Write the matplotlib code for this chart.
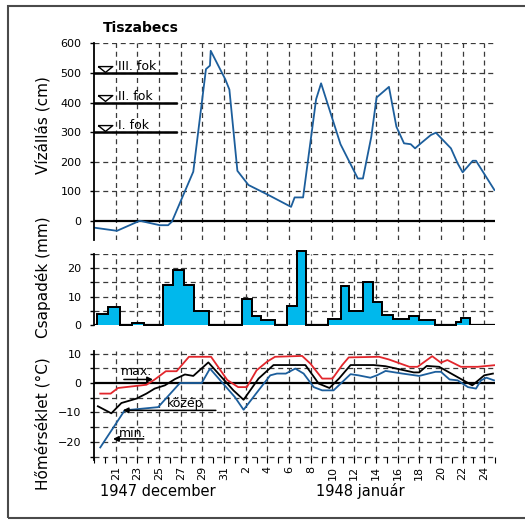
import matplotlib.pyplot as plt
from matplotlib.ticker import MultipleLocator, FixedLocator
from matplotlib.patches import Rectangle

# %% Data (x = day number: 1947-12-21 -> 21, 1948-01-01 -> 32)
level_day = [18.96, 21.12, 23.22, 25.07, 25.84, 26.19, 28.16, 29.33, 29.70, 29.77,
             31.12, 31.49, 32.23, 33.25, 35.10, 37.18, 37.51, 38.29, 39.49, 39.95,
             41.74, 43.34, 43.81, 44.58, 45.07, 46.21, 46.90, 47.60, 48.22, 48.62,
             49.15, 50.07, 50.54, 51.93, 52.55, 53.01, 53.94, 54.24, 55.94]
level_cm = [-23, -34, 0, -15, -15, -3, 166, 513, 525, 575,
            478, 444, 169, 121, 87, 47, 79, 79, 411, 465,
            259, 143, 143, 284, 417, 453, 318, 262, 259, 245,
            262, 290, 298, 245, 194, 164, 203, 203, 104]

alarm_levels = [300, 400, 500]
alarm_names = ['I. fok', 'II. fok', 'III. fok']

precip_edges = [19.3, 20.3, 21.4, 22.55, 23.6, 25.4, 26.3, 27.3, 28.25, 29.65,
                32.7, 33.6, 34.45, 35.7, 36.8, 37.75, 38.6, 40.6, 41.75, 42.55,
                43.8, 44.75, 45.6, 46.6, 48.05, 48.95, 50.45, 52.4, 52.85, 53.7]
precip_mm = [3.7, 6.2, 0, 0.7, 0, 14.2, 19.3, 14.2, 5.0, 0,
             9.0, 3.0, 1.6, 0, 6.6, 26.2, 0, 2.0, 13.6, 5.0,
             15.1, 7.9, 3.6, 2.0, 3.2, 1.7, 0, 1.1, 2.5]

tmax_day = [19.58, 20.54, 21.21, 23.84, 24.61, 25.63, 26.62, 27.76, 29.80, 31.3,
            32.3, 33.1, 34.0, 34.95, 35.7, 38.2, 38.96, 40.05, 41.0, 41.9,
            42.5, 45.3, 46.2, 48.1, 48.85, 50.2, 51.0, 51.6, 52.85, 54.4, 56.1]
tmax_c = [-3.6, -3.6, -1.7, -0.6, 1.2, 4.0, 4.0, 8.9, 8.9, 1.0,
          -1.4, -1.4, 4.3, 7.2, 8.9, 9.2, 6.6, 1.5, 1.5, 6.1,
          8.7, 8.9, 8.0, 5.5, 5.5, 9.1, 6.9, 7.8, 5.5, 5.5, 6.1]

tmean_day = [19.36, 20.6, 21.53, 22.92, 23.84, 24.6, 25.54, 26.46, 27.39, 28.16,
             29.55, 31.86, 32.8, 34.18, 35.56, 38.5, 39.73, 40.72, 41.6, 42.67,
             44.8, 45.9, 48.5, 49.0, 49.7, 50.85, 52.1, 53.9, 55.0, 55.8]
tmean_c = [-7.9, -10.3, -6.8, -5.3, -3.6, -1.9, -0.8, 1.3, 2.9, 2.4,
           7.0, -2.5, -5.7, 1.5, 6.1, 6.1, -0.2, -1.7, 1.5, 6.1,
           6.1, 5.7, 3.6, 3.6, 5.8, 5.5, 2.9, -0.8, 2.6, 3.2]

tmin_day = [19.58, 21.83, 24.92, 26.93, 28.94, 29.7, 32.0, 32.8, 34.18, 35.26,
            35.88, 36.7, 37.57, 38.34, 39.27, 40.05, 41.1, 42.67, 43.4, 44.5,
            45.1, 45.9, 47.45, 49.0, 50.5, 51.0, 51.8, 52.55, 53.5, 54.24,
            54.7, 55.2, 55.9]
tmin_c = [-21.9, -9.3, -8.2, 0, 0, 4.9, -4.8, -9.1, -2.5, 2.6,
          3.2, 3.2, 4.9, 3.2, -1.4, -2.5, -2.5, 3.0, 2.6, 1.8,
          2.6, 4.1, 3.2, 2.4, 3.8, 3.8, 1.2, 0.9, -1.4, -1.9,
          0.9, 1.8, 0.9]

tick_days = list(range(21, 56, 2))
tick_labels = ['21', '23', '25', '27', '29', '31', '2', '4', '6', '8', '10',
               '12', '14', '16', '18', '20', '22', '24']

# %% Styles
blue = '#1c5e9c'
red = '#e2262c'
cyan = '#00b8ec'
grid_kw = dict(color='#3a3a3a', linestyle=(0, (4, 3)), linewidth=0.9, dashes=(4, 3))


def style_axis(ax, ylim, ymajor, ygrid):
    ax.set_xlim(19, 56)
    ax.set_ylim(*ylim)
    for s in ['top', 'right', 'bottom']:
        ax.spines[s].set_visible(False)
    ax.spines['left'].set_linewidth(1.3)
    ax.spines['left'].set_zorder(6)
    ax.yaxis.set_major_locator(FixedLocator(ymajor))
    ax.yaxis.set_minor_locator(FixedLocator(ygrid))
    ax.tick_params(axis='y', which='both', length=3, width=1, pad=6, labelsize=8)
    ax.xaxis.set_major_locator(FixedLocator(tick_days))
    for g in ygrid:
        if g != 0:
            ax.plot([19, 56], [g, g], zorder=1, **grid_kw)
    for d in tick_days:
        ax.plot([d, d], list(ylim), zorder=1, **grid_kw)
    ax.axhline(0, color='black', linewidth=1.6, zorder=3)


fig = plt.figure(figsize=(5.25, 5.2), dpi=100)

# %% Water level
ax1 = fig.add_axes([0.179, 0.5385, 0.764, 0.378])
style_axis(ax1, (-65, 600), range(0, 601, 100), range(0, 601, 100))
ax1.tick_params(axis='x', length=0, labelbottom=False)
ax1.plot(level_day, level_cm, color=blue, linewidth=1.3, zorder=4)
for lvl, name in zip(alarm_levels, alarm_names):
    ax1.plot([19, 26.56], [lvl, lvl], color='black', linewidth=1.8, zorder=3)
    ax1.plot(20.0, lvl + 15, marker=[(-1, 0.4), (1, 0.4), (0, -0.4), (-1, 0.4)],
             markersize=10.5, markerfacecolor='white', markeredgecolor='black',
             markeredgewidth=1, linestyle='none', zorder=5)
    ax1.text(21.2, lvl + 21, name, fontsize=9, va='center', ha='left', zorder=5)

# %% Precipitation
ax2 = fig.add_axes([0.179, 0.3756, 0.764, 0.1354])
style_axis(ax2, (0, 25), [0, 10, 20], range(0, 26, 5))
ax2.tick_params(axis='x', length=0, labelbottom=False)
ax2.stairs(precip_mm, precip_edges, fill=True, facecolor=cyan, edgecolor='black',
           linewidth=1.3, zorder=4, clip_on=False)
ax2.stairs(precip_mm, precip_edges, fill=False, color='black',
           linewidth=1.3, zorder=5, clip_on=False)

# %% Temperature
ax3 = fig.add_axes([0.179, 0.1163, 0.764, 0.2083])
style_axis(ax3, (-26, 10.8), [-20, -10, 0, 10], range(-25, 11, 5))
ax3.plot(tmax_day, tmax_c, color=red, linewidth=1.3, zorder=4)
ax3.plot(tmin_day, tmin_c, color=blue, linewidth=1.3, zorder=4)
ax3.plot(tmean_day, tmean_c, color='black', linewidth=1.3, zorder=5)
ax3.xaxis.set_minor_locator(MultipleLocator(1))
ax3.set_xticks(tick_days)
ax3.set_xticklabels(tick_labels, rotation=90, fontsize=8)
ax3.tick_params(axis='x', which='both', direction='inout', length=5, width=0.8, pad=2)

arrow = dict(arrowstyle='-|>', color='black', linewidth=1.1, mutation_scale=8)
ax3.annotate('', xy=(24.7, 1.2), xytext=(21.5, 1.2), arrowprops=arrow, zorder=6)
ax3.text(21.45, 3.9, 'max.', fontsize=9, va='center', ha='left')
ax3.annotate('', xy=(21.4, -9.3), xytext=(30.5, -9.3), arrowprops=arrow, zorder=6)
ax3.text(25.7, -7.0, 'közép', fontsize=9, va='center', ha='left')
ax3.annotate('', xy=(20.5, -19.0), xytext=(23.85, -19.0), arrowprops=arrow, zorder=6)
ax3.text(21.3, -17.1, 'min.', fontsize=9, va='center', ha='left')

# %% Labels and frame
fig.text(0.268, 0.9456, 'Tiszabecs', fontsize=10, fontweight='bold', ha='center', va='center')
fig.text(0.082, 1 - 125 / 520, 'Vízállás (cm)', fontsize=11, rotation=90, ha='center', va='center')
fig.text(0.082, 1 - 277 / 520, 'Csapadék (mm)', fontsize=11, rotation=90, ha='center', va='center')
fig.text(0.082, 1 - 424 / 520, 'Hőmérséklet (°C)', fontsize=11, rotation=90, ha='center', va='center')
fig.text(158 / 525, 1 - 491 / 520, '1947 december', fontsize=10.5, ha='center', va='center')
fig.text(360 / 525, 1 - 491 / 520, '1948 január', fontsize=10.5, ha='center', va='center')

fig.patches.append(Rectangle((8 / 525, 2 / 520), 1.2, 1 - 7.5 / 520, transform=fig.transFigure,
                             fill=False, edgecolor='#4a4a4a', linewidth=1.5))

plt.savefig('out.png', dpi=100)
